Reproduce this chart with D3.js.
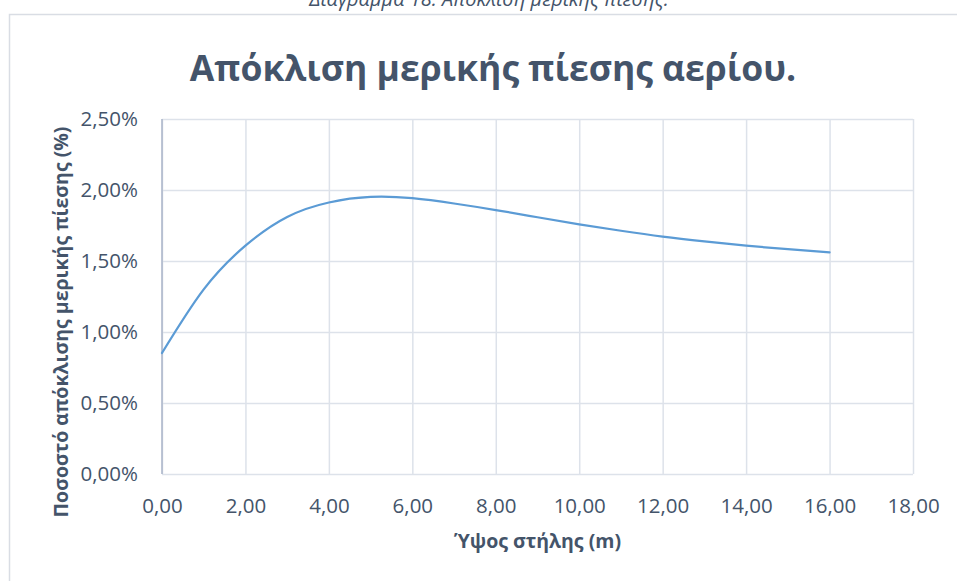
<!DOCTYPE html>
<html>
<head>
<meta charset="utf-8">
<script src="https://cdn.jsdelivr.net/npm/d3@7"></script>
<style>
  html, body { margin: 0; padding: 0; background: #ffffff; }
  svg { display: block; font-family: "Open Sans", "Noto Sans", "DejaVu Sans", sans-serif; }
</style>
</head>
<body>
<svg id="chart" width="957" height="581"></svg>
<script>
// Column height (m) and deviation of the gas partial pressure (fraction)
const heights = [0, 1, 2, 3, 4, 5, 6, 7, 8, 9, 10, 11, 12, 13, 14, 15, 16];
const deviation = [0.00852, 0.0130, 0.01608, 0.0181, 0.01912, 0.01951, 0.01942, 0.01905,
                   0.01859, 0.01808, 0.01758, 0.01713, 0.01672, 0.01638, 0.01608, 0.01583, 0.01560];

const xTicks = [0, 2, 4, 6, 8, 10, 12, 14, 16, 18];
const yTicks = [0, 0.005, 0.010, 0.015, 0.020, 0.025];

const captionText = "Διάγραμμα 18: Απόκλιση μερικής πίεσης.";
const titleText = "Απόκλιση μερικής πίεσης αερίου.";
const xTitle = "Ύψος στήλης (m)";
const yTitle = "Ποσοστό απόκλισης μερικής πίεσης (%)";

const locale = d3.formatLocale({ decimal: ",", thousands: ".", grouping: [3], currency: ["", "€"] });
const fmtX = locale.format(".2f");
const fmtY = locale.format(".2%");

const svg = d3.select("#chart");
const textColor = "#44546a";
const gridColor = "#dde2ea";

const plot = { left: 162, right: 913, top: 119, bottom: 474 };

const x = d3.scaleLinear().domain([0, 18]).range([plot.left, plot.right]);
const y = d3.scaleLinear().domain([0, 0.025]).range([plot.bottom, plot.top]);

// Caption of the figure, sitting above the chart frame
svg.append("text")
  .attr("x", 489).attr("y", 6)
  .attr("text-anchor", "middle")
  .attr("font-style", "italic")
  .attr("font-size", 20)
  .attr("fill", textColor)
  .text(captionText);

// Chart frame
svg.append("rect")
  .attr("x", 9.5).attr("y", 14.5)
  .attr("width", 1000).attr("height", 700)
  .attr("fill", "#ffffff")
  .attr("stroke", "#d9dde4")
  .attr("stroke-width", 1.5);

// Title
svg.append("text")
  .attr("x", 493).attr("y", 81)
  .attr("text-anchor", "middle")
  .attr("font-weight", "bold")
  .attr("font-size", 35.5)
  .attr("fill", textColor)
  .text(titleText);

const tickFont = "'Open Sans', 'Noto Sans', sans-serif";

// Vertical gridlines and category labels
svg.append("g")
  .attr("transform", `translate(0,${plot.bottom})`)
  .call(d3.axisBottom(x).tickValues(xTicks).tickSize(-(plot.bottom - plot.top)).tickFormat(fmtX).tickPadding(24.5))
  .call(g => g.select(".domain").remove())
  .call(g => g.selectAll(".tick line").attr("stroke", gridColor).attr("stroke-width", 1.5))
  .call(g => g.selectAll(".tick text")
      .attr("font-size", 20.5).attr("fill", textColor)
      .attr("font-family", tickFont));

// Horizontal gridlines and value labels
svg.append("g")
  .attr("transform", `translate(${plot.left},0)`)
  .call(d3.axisLeft(y).tickValues(yTicks).tickSize(-(plot.right - plot.left)).tickFormat(fmtY).tickPadding(24))
  .call(g => g.select(".domain").remove())
  .call(g => g.selectAll(".tick line").attr("stroke", gridColor).attr("stroke-width", 1.5))
  .call(g => g.selectAll(".tick text")
      .attr("font-size", 20.5).attr("fill", textColor)
      .attr("font-family", tickFont));

// Value axis line
svg.append("line")
  .attr("x1", plot.left).attr("x2", plot.left)
  .attr("y1", plot.top).attr("y2", plot.bottom)
  .attr("stroke", "#aab5c8").attr("stroke-width", 1.5);

// Deviation curve
const line = d3.line()
  .x((d, i) => x(heights[i]))
  .y(d => y(d))
  .curve(d3.curveNatural);

svg.append("path")
  .datum(deviation)
  .attr("d", line)
  .attr("fill", "none")
  .attr("stroke", "#5b9bd5")
  .attr("stroke-width", 2.25)
  .attr("stroke-linecap", "round");

// Axis titles
svg.append("text")
  .attr("x", (plot.left + plot.right) / 2).attr("y", 548)
  .attr("text-anchor", "middle")
  .attr("font-weight", "bold")
  .attr("font-size", 19.5)
  .attr("fill", textColor)
  .text(xTitle);

svg.append("text")
  .attr("transform", "translate(68,322) rotate(-90)")
  .attr("text-anchor", "middle")
  .attr("font-weight", "bold")
  .attr("font-size", 19.5)
  .attr("fill", textColor)
  .text(yTitle);
</script>
</body>
</html>
